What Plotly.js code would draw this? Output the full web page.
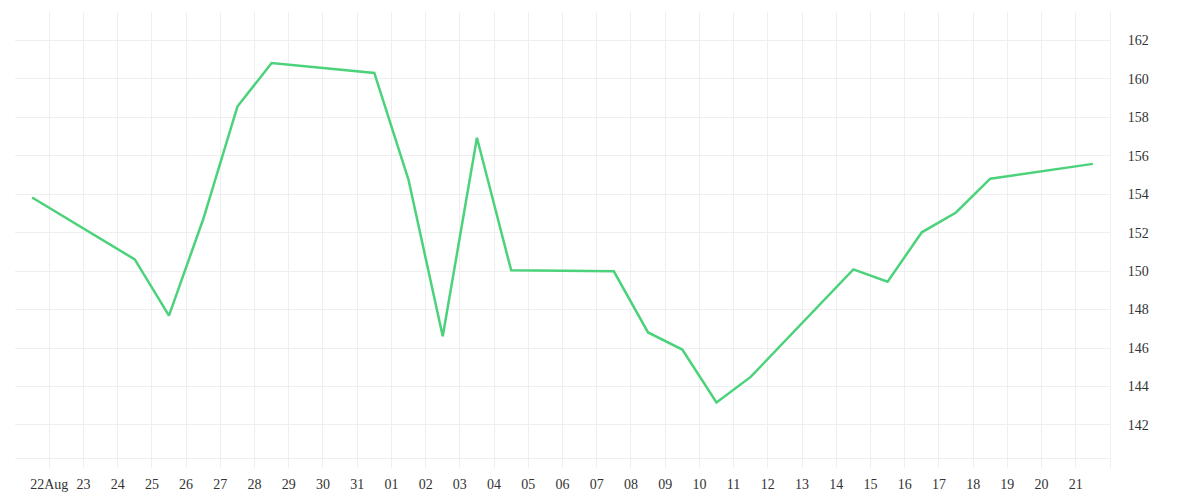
<!DOCTYPE html>
<html>
<head>
<meta charset="utf-8">
<script src="https://cdn.plot.ly/plotly-3.0.1.min.js"></script>
<style>
  html, body { margin: 0; padding: 0; background: #fff; }
  #chart { width: 1200px; height: 500px; }
</style>
</head>
<body>
<div id="chart"></div>
<script>
// daily closes (trading days only)
var dates = ['2020-08-21', '2020-08-24', '2020-08-25', '2020-08-26', '2020-08-27', '2020-08-28',
             '2020-08-31', '2020-09-01', '2020-09-02', '2020-09-03', '2020-09-04', '2020-09-07',
             '2020-09-08', '2020-09-09', '2020-09-10', '2020-09-11', '2020-09-14', '2020-09-15',
             '2020-09-16', '2020-09-17', '2020-09-18', '2020-09-21'];
var prices = [153.83, 150.61, 147.69, 152.70, 158.56, 160.83,
              160.31, 154.75, 146.61, 156.94, 150.04, 149.99,
              146.81, 145.92, 143.17, 144.50, 150.09, 149.45,
              152.02, 153.05, 154.81, 155.58];

// x ticks: one per calendar day
var tickDays = ['2020-08-21', '2020-08-22', '2020-08-23', '2020-08-24', '2020-08-25', '2020-08-26',
                '2020-08-27', '2020-08-28', '2020-08-29', '2020-08-30', '2020-08-31', '2020-09-01',
                '2020-09-02', '2020-09-03', '2020-09-04', '2020-09-05', '2020-09-06', '2020-09-07',
                '2020-09-08', '2020-09-09', '2020-09-10', '2020-09-11', '2020-09-12', '2020-09-13',
                '2020-09-14', '2020-09-15', '2020-09-16', '2020-09-17', '2020-09-18', '2020-09-19',
                '2020-09-20', '2020-09-21'];
var tickText = ['', '22Aug', '23', '24', '25', '26', '27', '28', '29', '30', '31', '01',
                '02', '03', '04', '05', '06', '07', '08', '09', '10', '11', '12', '13',
                '14', '15', '16', '17', '18', '19', '20', '21'];

var priceTicks = [140.26, 142, 144, 146, 148, 150, 152, 154, 156, 158, 160, 162];
var priceText = ['', '142', '144', '146', '148', '150', '152', '154', '156', '158', '160', '162'];

var gridColor = '#efefef';
var font = {family: 'Liberation Serif', size: 14, color: '#333'};

var trace1 = {
  x: dates.map(d => d + ' 12:00'),
  y: prices,
  mode: 'lines',
  type: 'scatter',
  line: {color: '#4cd27b', width: 2.5},
  hoverinfo: 'none'
};

var layout = {
  width: 1200, height: 500,
  paper_bgcolor: '#fff', plot_bgcolor: '#fff',
  margin: {l: 15, r: 90, t: 12, b: 32},
  showlegend: false,
  font: font,
  xaxis: {
    type: 'date',
    range: ['2020-08-21', '2020-09-22'],
    tickvals: tickDays,
    ticktext: tickText,
    showgrid: true, gridcolor: gridColor, gridwidth: 1,
    zeroline: false, showline: false, ticks: '',
    ticklabelstandoff: 6,
    tickfont: font
  },
  yaxis: {
    side: 'right',
    range: [139.76, 163.48],
    tickvals: priceTicks,
    ticktext: priceText,
    showgrid: true, gridcolor: gridColor, gridwidth: 1,
    zeroline: false,
    showline: true, linecolor: gridColor, linewidth: 1,
    ticks: '',
    ticklabelstandoff: 14,
    tickfont: font
  }
};

Plotly.newPlot('chart', [trace1], layout, {staticPlot: true});
</script>
</body>
</html>
